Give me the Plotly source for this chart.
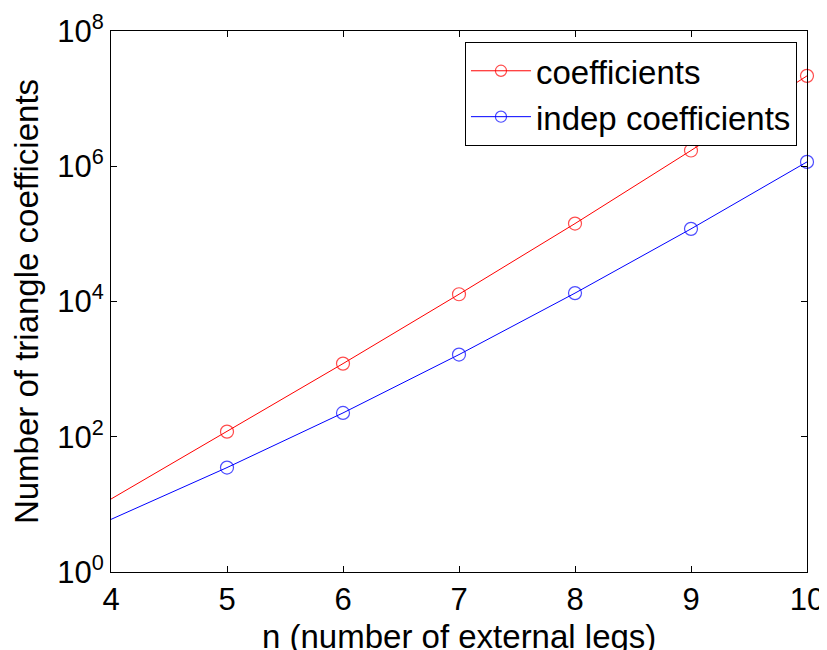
import plotly.graph_objects as go

n_vals = [4, 5, 6, 7, 8, 9, 10]
coefficients = [12, 119, 1206, 12800, 142000, 1.71e6, 2.17e7]
indep_coefficients = [6.0, 35, 225, 1640, 13300, 118600, 1.16e6]
marker_shown = [0, 1, 1, 1, 1, 1, 1]

y_tickvals = [1, 1e2, 1e4, 1e6, 1e8]
y_ticktext = ["10<sup>0</sup>", "10<sup>2</sup>", "10<sup>4</sup>", "10<sup>6</sup>", "10<sup>8</sup>"]

x_title = "n (number of external legs)"
y_title = "Number of triangle coefficients"

FONT = "Liberation Sans, Arial, sans-serif"
sizes = [13 * m for m in marker_shown]

fig = go.Figure()
fig.add_trace(go.Scatter(
    x=n_vals, y=coefficients, name="coefficients", mode="lines+markers",
    line=dict(color="#ff0000", width=1),
    marker=dict(symbol="circle-open", size=sizes, color="#ff0000", line=dict(width=1.2)),
    cliponaxis=False,
))
fig.add_trace(go.Scatter(
    x=n_vals, y=indep_coefficients, name="indep coefficients", mode="lines+markers",
    line=dict(color="#0000ff", width=1),
    marker=dict(symbol="circle-open", size=sizes, color="#0000ff", line=dict(width=1.2)),
    cliponaxis=False,
))

axis_common = dict(
    showline=True, linecolor="black", linewidth=1, mirror="ticks",
    ticks="inside", ticklen=6, tickcolor="black", showgrid=False, zeroline=False,
    tickfont=dict(family=FONT, size=31, color="black"),
    automargin=False, ticklabeloverflow="allow",
)

fig.update_xaxes(range=[4, 10], tickvals=n_vals, ticktext=[str(v) for v in n_vals], **axis_common)
fig.update_yaxes(
    type="log", range=[0, 8], tickvals=y_tickvals, ticktext=y_ticktext,
    title=dict(text=y_title, font=dict(family=FONT, size=33, color="black"), standoff=8),
    **axis_common,
)

fig.add_annotation(
    text=x_title, xref="paper", yref="paper", x=0.5, y=0,
    xanchor="center", yanchor="middle", yshift=-64, showarrow=False,
    font=dict(family=FONT, size=33, color="black"),
)

# page body has an 8px margin, so the figure is sized/offset to compensate
fig.update_layout(
    width=819, height=642,
    margin=dict(l=103, r=20, t=23, b=78, autoexpand=False),
    paper_bgcolor="white", plot_bgcolor="white",
    showlegend=True,
    legend=dict(
        x=0.9856, y=0.98, xanchor="right", yanchor="top",
        bgcolor="white", bordercolor="black", borderwidth=1,
        font=dict(family=FONT, size=33, color="black"),
        itemwidth=60, tracegroupgap=0,
    ),
)

fig.write_html("out.html")
